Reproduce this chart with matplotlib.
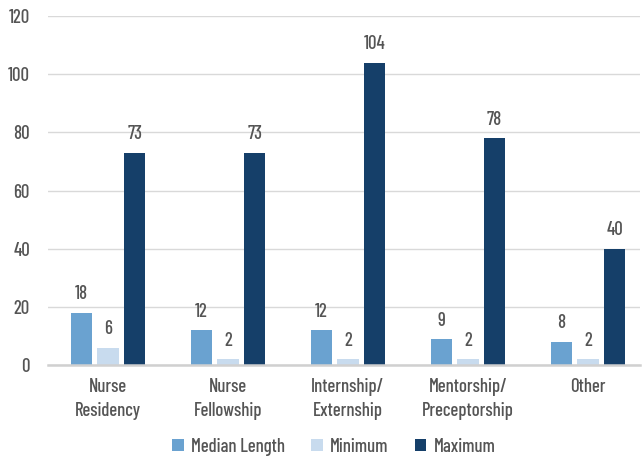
import matplotlib
matplotlib.use("Agg")
import matplotlib.pyplot as plt
import numpy as np

categories = ["Nurse\nResidency", "Nurse\nFellowship", "Internship/\nExternship", "Mentorship/\nPreceptorship", "Other"]
series_names = ["Median Length", "Minimum", "Maximum"]
median_length = [18, 12, 12, 9, 8]
minimum = [6, 2, 2, 2, 2]
maximum = [73, 73, 104, 78, 40]
yticks = [0, 20, 40, 60, 80, 100, 120]

colors = ["#6aa2d0", "#c8dbee", "#153f69"]
text_color = "#555555"

plt.rcParams["font.family"] = ["Barlow Condensed", "DejaVu Sans"]
plt.rcParams["font.weight"] = "medium"
fs = 13.5

fig = plt.figure(figsize=(6.42, 4.58), dpi=100)
ax = fig.add_axes([48/642, 1-365/458, (640-48)/642, (365-16)/458])

x = np.arange(len(categories))
slot = 0.222
width = 0.178
for i, (vals, c, name) in enumerate(zip([median_length, minimum, maximum], colors, series_names)):
    pos = x + (i-1)*slot
    bars = ax.bar(pos, vals, width=width, color=c, label=name, zorder=3)
    for b, v in zip(bars, vals):
        ax.text(b.get_x()+b.get_width()/2, v + 3.2, str(v), ha="center", va="bottom",
                fontsize=fs, color=text_color)

ax.set_ylim(0, 120)
ax.set_xlim(-0.5, 4.5 - 8/120)
ax.set_yticks(yticks)
ax.set_xticks(x)
ax.set_xticklabels(categories, fontsize=fs, color=text_color, linespacing=1.45)
ax.tick_params(axis="y", labelsize=fs, labelcolor=text_color, length=0, pad=13)
ax.tick_params(axis="x", length=0, pad=9)
ax.yaxis.grid(True, color="#d9d9d9", linewidth=1, zorder=0)
ax.set_axisbelow(True)
for s in ["top", "right", "left"]:
    ax.spines[s].set_visible(False)
ax.spines["bottom"].set_color("#d0d0d0")
ax.spines["bottom"].set_linewidth(1.8)
ax.spines["bottom"].set_zorder(4)

leg = fig.legend(loc="center", bbox_to_anchor=(334/642, 1-447/458), ncol=3, frameon=False,
                 fontsize=fs, handlelength=0.6, handleheight=0.6, handletextpad=0.4,
                 columnspacing=1.4)
for t in leg.get_texts():
    t.set_color(text_color)

fig.savefig("out.png", dpi=100)
